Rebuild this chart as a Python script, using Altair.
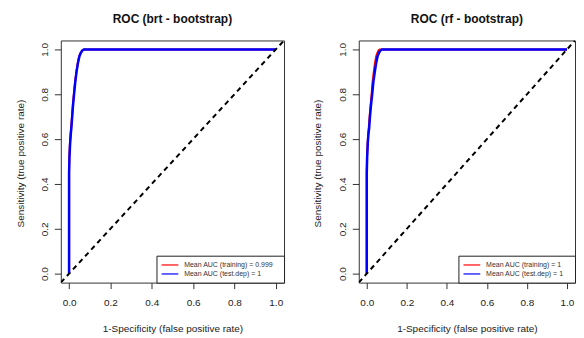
import altair as alt
import pandas as pd

# ---- data ----
tick_vals = [0.0, 0.2, 0.4, 0.6, 0.8, 1.0]
diag_vals = [-0.04, 1.04]

curve_tpr = [0.0, 0.45, 0.52, 0.58, 0.62, 0.65, 0.70, 0.75, 0.80, 0.855, 0.90, 0.94, 0.97, 0.985, 0.995, 1.0, 1.0]

brt_train_fpr = [0.0, 0.0, 0.001, 0.004, 0.007, 0.010, 0.014, 0.018, 0.023, 0.029, 0.035, 0.042, 0.049, 0.056, 0.063, 0.071, 1.0]
brt_test_fpr = [0.0, 0.0, 0.002, 0.005, 0.008, 0.011, 0.015, 0.019, 0.024, 0.030, 0.036, 0.043, 0.050, 0.057, 0.064, 0.072, 1.0]

rf_train_fpr = [0.0, 0.0, 0.001, 0.004, 0.007, 0.010, 0.014, 0.019, 0.024, 0.029, 0.035, 0.041, 0.047, 0.053, 0.058, 0.064, 1.0]
rf_test_fpr = [0.0, 0.0, 0.002, 0.005, 0.008, 0.012, 0.016, 0.021, 0.027, 0.033, 0.040, 0.047, 0.054, 0.061, 0.068, 0.076, 1.0]

titles = ["ROC (brt - bootstrap)", "ROC (rf - bootstrap)"]
brt_labels = ["Mean AUC (training) = 0.999", "Mean AUC (test.dep) = 1"]
rf_labels = ["Mean AUC (training) = 1", "Mean AUC (test.dep) = 1"]
series_colors = ["#ff0000", "#0000ff"]

FONT = "Liberation Sans"
PLOT_H = 243


def panel(title, tr_x, te_x, tpr, labels, width, ytitle_x):
    rows = []
    for i, (x, y) in enumerate(zip(tr_x, tpr)):
        rows.append({"fpr": x, "tpr": y, "series": labels[0], "ord": i})
    for i, (x, y) in enumerate(zip(te_x, tpr)):
        rows.append({"fpr": x, "tpr": y, "series": labels[1], "ord": i})
    df = pd.DataFrame(rows)

    xs = alt.Scale(domain=[-0.04, 1.04], nice=False, zero=False)
    ys = alt.Scale(domain=[-0.04, 1.04], nice=False, zero=False)
    xaxis = alt.Axis(values=tick_vals, format=".1f", title="1-Specificity (false positive rate)",
                     grid=False, domain=False, tickSize=6, labelPadding=17, labelBaseline="alphabetic",
                     titleBaseline="alphabetic", titleY=49.5, labelFlush=False)
    yaxis = alt.Axis(values=tick_vals, format=".1f", title="Sensitivity (true positive rate)",
                     grid=False, domain=False, tickSize=6.5, labelPadding=7, labelAngle=270,
                     labelAlign="center", labelBaseline="alphabetic", titleAngle=270,
                     titleAlign="center", titleBaseline="alphabetic", titleX=ytitle_x, titleY=123,
                     labelFlush=False)
    color = alt.Color("series:N",
                      scale=alt.Scale(domain=labels, range=series_colors),
                      legend=alt.Legend(title=" ", titleOrient="right", titleFontSize=7, titlePadding=6,
                                        orient="bottom-right", offset=0, padding=4.8,
                                        fillColor="white", strokeColor="#222",
                                        symbolType="M-1.2,0H3.6", symbolSize=49, symbolStrokeWidth=1.5,
                                        symbolOpacity=0.8,
                                        labelFontSize=7, labelFont=FONT, labelColor="#333",
                                        labelOffset=14, rowPadding=1))
    base = alt.Chart(df)
    red = base.transform_filter(alt.datum.series == labels[0]).mark_line(strokeWidth=2).encode(
        x=alt.X("fpr:Q", scale=xs, axis=xaxis),
        y=alt.Y("tpr:Q", scale=ys, axis=yaxis),
        order="ord:Q",
        color=color,
    )
    blue = base.transform_filter(alt.datum.series == labels[1]).mark_line(strokeWidth=2.5).encode(
        x=alt.X("fpr:Q", scale=xs, axis=xaxis),
        y=alt.Y("tpr:Q", scale=ys, axis=yaxis),
        order="ord:Q",
        color=color,
    )
    diag = alt.Chart(pd.DataFrame({"d": diag_vals})).mark_line(
        color="black", strokeDash=[5, 4], strokeWidth=2, clip=True
    ).encode(
        x=alt.X("d:Q", scale=xs, axis=xaxis),
        y=alt.Y("d:Q", scale=ys, axis=yaxis),
    )
    return alt.layer(red, blue, diag).properties(
        width=width, height=PLOT_H,
        title=alt.TitleParams(title, fontSize=12, fontWeight="bold", font=FONT, color="#111",
                              anchor="middle", frame="group", baseline="alphabetic", offset=6),
    )


left = panel(titles[0], brt_train_fpr, brt_test_fpr, curve_tpr, brt_labels, 224, -37)
right = panel(titles[1], rf_train_fpr, rf_test_fpr, curve_tpr, rf_labels, 217, -38)

chart = alt.hconcat(left, right, spacing=27).resolve_scale(
    color="independent", x="independent", y="independent"
).properties(
    padding={"left": 7, "top": 3, "right": 0, "bottom": 0}
).configure_view(
    stroke="#333", strokeWidth=1
).configure_axis(
    labelFont=FONT, titleFont=FONT, labelFontSize=10, titleFontSize=10,
    labelColor="#222", titleColor="#222", tickColor="#333", titleFontWeight="normal",
)

chart.save("out.html", embed_options={"renderer": "svg", "actions": False})
